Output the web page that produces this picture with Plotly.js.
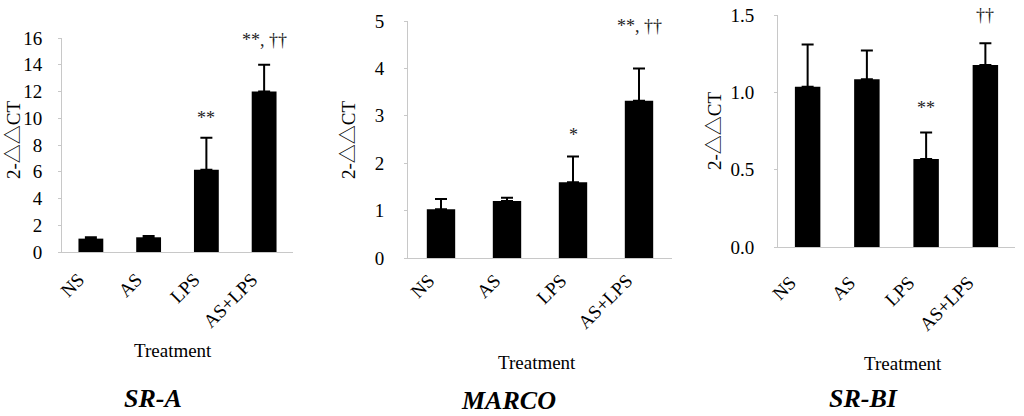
<!DOCTYPE html>
<html>
<head>
<meta charset="utf-8">
<script src="https://cdn.plot.ly/plotly-3.0.1.min.js"></script>
<style>
  html, body { margin: 0; padding: 0; background: #fff; }
  #chart { width: 1024px; height: 416px; }
</style>
</head>
<body>
<div id="chart"></div>
<script>
// 처리군
const treatments = ['NS', 'AS', 'LPS', 'AS+LPS'];

// SR-A
const srA = [1.0, 1.1, 6.15, 12.0];
const srAErr = [1.1, 1.2, 8.55, 14.0];
const srASig = ['', '', '**', '**, ††'];
const srASigY = [0, 0, 10.0, 15.85];

// MARCO
const marco = [1.03, 1.2, 1.6, 3.32];
const marcoErr = [1.245, 1.27, 2.14, 4.0];
const marcoSig = ['', '', '*', '**, ††'];
const marcoSigY = [0, 0, 2.6, 4.9];

// SR-BI
const srBI = [1.036, 1.084, 0.569, 1.176];
const srBIErr = [1.31, 1.27, 0.741, 1.317];
const srBISig = ['', '', '**', '††'];
const srBISigY = [0, 0, 0.9, 1.5];

const W = 1024, H = 416;
const px = x => x / W;
const py = y => 1 - y / H;
const FONT = '"Liberation Serif", "Times New Roman", serif';
const TRI_FONT = '"Liberation Serif", "Noto Sans CJK JP", serif';

function barTrace(vals, errTops, xa, ya) {
    return {
        x: treatments,
        y: vals,
        type: 'bar',
        width: 0.43,
        xaxis: xa,
        yaxis: ya,
        marker: { color: '#000000', line: { width: 0 } },
        error_y: {
            type: 'data',
            symmetric: false,
            array: errTops.map((e, i) => e - vals[i]),
            arrayminus: vals.map(() => 0),
            color: '#000000',
            thickness: 2,
            width: 6
        },
        hoverinfo: 'skip'
    };
}

function xAxis(left, right, yref, standoff, shift) {
    return {
        domain: [px(left), px(right)],
        anchor: yref,
        showline: true,
        linecolor: '#c8c8c8',
        linewidth: 1,
        showgrid: false,
        zeroline: false,
        ticks: '',
        tickangle: -45,
        ticklabelstandoff: standoff,
        ticklabelshift: shift,
        tickfont: { family: FONT, size: 19, color: '#000' },
        fixedrange: true
    };
}

function yAxis(top, bottom, range, dtick, fmt, xref, standoff) {
    return {
        domain: [py(bottom), py(top)],
        anchor: xref,
        range: range,
        dtick: dtick,
        tickformat: fmt,
        showline: true,
        linecolor: '#c8c8c8',
        linewidth: 1,
        ticks: 'outside',
        ticklen: 3,
        tickcolor: '#c8c8c8',
        ticklabelstandoff: standoff,
        showgrid: false,
        zeroline: false,
        tickfont: { family: FONT, size: 19, color: '#000' },
        fixedrange: true
    };
}

const data = [
    barTrace(srA, srAErr, 'x', 'y'),
    barTrace(marco, marcoErr, 'x2', 'y2'),
    barTrace(srBI, srBIErr, 'x3', 'y3')
];

const annotations = [];

function sigNotes(sig, sigY, xr, yr) {
    sig.forEach((s, i) => {
        if (!s) return;
        annotations.push({
            x: treatments[i], y: sigY[i], xref: xr, yref: yr,
            text: s, showarrow: false,
            font: { family: FONT, size: 18, color: '#222' }
        });
    });
}
sigNotes(srASig, srASigY, 'x', 'y');
sigNotes(marcoSig, marcoSigY, 'x2', 'y2');
sigNotes(srBISig, srBISigY, 'x3', 'y3');

function paperText(x, y, text, font, angle) {
    annotations.push({
        x: px(x), y: py(y), xref: 'paper', yref: 'paper',
        text: text, showarrow: false, textangle: angle || 0,
        xanchor: 'center', yanchor: 'middle', font: font
    });
}

const axisTitleFont = { family: FONT, size: 19, color: '#000' };
const yTitleFont = { family: TRI_FONT, size: 19, color: '#000' };
const panelFont = { family: FONT, size: 26, color: '#000' };

// y축 제목
paperText(13, 140, '2-△△CT', yTitleFont, -90);
paperText(348, 140, '2-△△CT', yTitleFont, -90);
paperText(714, 131, '2-△△CT', yTitleFont, -90);

// x축 제목
paperText(173, 350, 'Treatment', axisTitleFont);
paperText(537, 362, 'Treatment', axisTitleFont);
paperText(903, 363, 'Treatment', axisTitleFont);

// 패널 제목
paperText(153, 398, '<b><i>SR-A</i></b>', panelFont);
paperText(508, 400, '<b><i>MARCO</i></b>', panelFont);
paperText(863, 398, '<b><i>SR-BI</i></b>', panelFont);

const layout = {
    width: W,
    height: H,
    margin: { l: 0, r: 0, t: 0, b: 0 },
    showlegend: false,
    paper_bgcolor: '#ffffff',
    plot_bgcolor: '#ffffff',
    xaxis: xAxis(62, 293, 'y', 8, -12),
    yaxis: yAxis(38, 252, [0, 16], 2, 'd', 'x', 12),
    xaxis2: xAxis(408, 672, 'y2', 3, -12),
    yaxis2: yAxis(21, 258, [0, 5], 1, 'd', 'x2', 16),
    xaxis3: xAxis(778, 1015, 'y3', 16, -17),
    yaxis3: yAxis(15, 247, [0, 1.5], 0.5, '.1f', 'x3', 16),
    annotations: annotations
};

Plotly.newPlot('chart', data, layout, { staticPlot: true });
</script>
</body>
</html>
